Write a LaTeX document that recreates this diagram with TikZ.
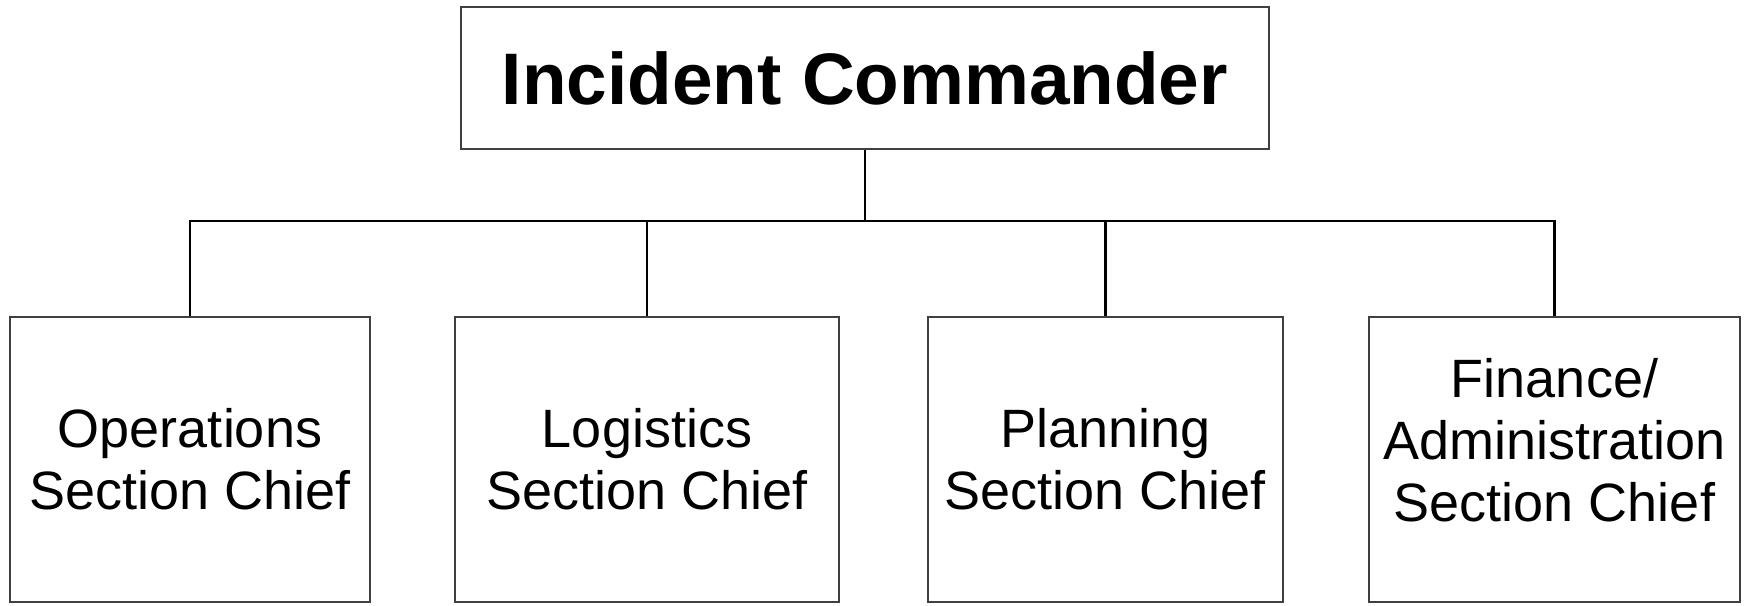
\documentclass[tikz,border=0pt]{standalone}
\usepackage{fontspec}
\setmainfont{Liberation Sans}
\tikzset{
  chiefbox/.style={draw=black!75, line width=2.5pt, fill=white, inner sep=0pt,
    minimum width=808pt, minimum height=142pt,
    font={\fontsize{73pt}{80pt}\selectfont\bfseries}},
  sectionbox/.style={draw=black!75, line width=2.5pt, fill=white, inner sep=0pt,
    minimum height=285pt, align=center,
    font={\fontsize{54pt}{62pt}\selectfont}},
  link/.style={line width=2.5pt, black}
}
\begin{document}
\begin{tikzpicture}[x=1pt,y=-1pt]
\useasboundingbox (0,0) rectangle (1744,605);
% top box
\node[chiefbox] (ic) at (865,78) {Incident Commander};
% section boxes
\node[sectionbox, minimum width=360pt] (ops) at (190,459.5) {Operations\\Section Chief};
\node[sectionbox, minimum width=384pt] (log) at (647,459.5) {Logistics\\Section Chief};
\node[sectionbox, minimum width=355pt] (plan) at (1105.5,459.5) {Planning\\Section Chief};
\node[sectionbox, minimum width=371pt] (fin) at (1554.5,459.5) {};
\node[align=center, inner sep=0pt, font={\fontsize{54pt}{62pt}\selectfont}] (fintext)
  at ([yshift=19pt]fin.center) {Finance/\\Administration\\Section Chief};
% connectors
\coordinate (bus) at (865,221);
\draw[link] (ic.south) -- (bus);
\draw[link] (ops.north) |- (bus) -| (fin.north);
\draw[link] (log.north) -- (log.north |- bus);
\draw[link] (plan.north) -- (plan.north |- bus);
\end{tikzpicture}
\end{document}
